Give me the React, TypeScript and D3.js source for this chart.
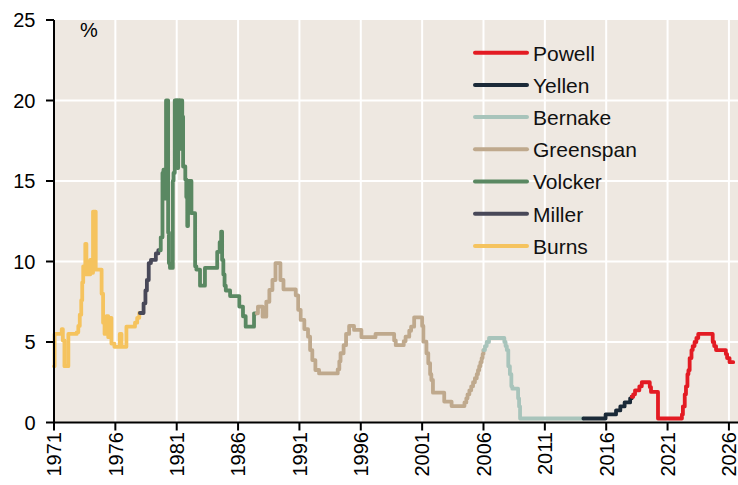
import React from "react";
import * as d3 from "d3";

type Pt = [number, number];

const burns: Pt[] = [[1971.0,3.5],[1971.05,5.5],[1971.63,5.8],[1971.72,5.1],[1971.85,3.5],[1972.17,5.5],[1972.85,5.6],[1972.98,6.0],[1973.1,6.7],[1973.22,7.6],[1973.3,8.7],[1973.38,9.7],[1973.55,11.1],[1973.64,9.2],[1973.95,10.1],[1974.05,9.3],[1974.18,13.1],[1974.4,9.5],[1974.88,8.0],[1975.0,6.2],[1975.12,5.5],[1975.28,6.6],[1975.42,5.3],[1975.52,6.5],[1975.68,4.9],[1975.92,4.7],[1976.36,5.5],[1976.5,4.7],[1976.9,5.95],[1977.6,6.2],[1977.78,6.5],[1977.95,6.8],[1978.0,6.8]];
const miller: Pt[] = [[1978.0,6.8],[1978.3,7.4],[1978.45,8.2],[1978.57,8.85],[1978.72,9.9],[1978.9,10.1],[1979.3,10.5],[1979.5,10.7],[1979.64,10.7]];
const volcker: Pt[] = [[1979.64,10.7],[1979.7,11.5],[1979.84,15.5],[1979.92,15.7],[1979.98,13.9],[1980.06,15.5],[1980.13,20],[1980.3,11.8],[1980.36,9.9],[1980.45,9.6],[1980.68,15],[1980.74,15.5],[1980.84,20],[1980.92,16.5],[1980.98,20],[1981.06,15.8],[1981.12,20],[1981.2,17],[1981.27,20],[1981.45,19],[1981.52,15.9],[1981.7,15.1],[1981.78,14],[1981.86,12.2],[1981.92,15],[1982.2,13],[1982.5,9.7],[1982.6,9.5],[1982.9,8.5],[1983.3,9.6],[1984.3,10.6],[1984.5,11.2],[1984.62,11.85],[1984.7,10.1],[1984.8,9.2],[1984.9,8.5],[1985.0,8.2],[1985.35,7.85],[1986.1,7.2],[1986.4,6.6],[1986.62,5.95],[1987.3,6.78],[1987.52,6.78]];
const greenspan: Pt[] = [[1987.52,6.78],[1987.62,7.2],[1988.0,6.57],[1988.3,7.5],[1988.55,8.23],[1988.8,8.85],[1989.05,9.9],[1989.45,8.85],[1989.7,8.27],[1990.7,7.9],[1990.9,7.0],[1991.1,6.37],[1991.4,5.8],[1991.7,5.33],[1991.87,4.5],[1992.05,3.88],[1992.3,3.26],[1992.6,3.05],[1994.12,3.3],[1994.25,3.8],[1994.35,4.3],[1994.6,4.8],[1994.8,5.5],[1995.05,6.0],[1995.45,5.75],[1996.05,5.3],[1997.2,5.5],[1998.72,5.1],[1998.85,4.8],[1999.5,5.05],[1999.65,5.33],[1999.95,5.7],[2000.1,5.95],[2000.35,6.53],[2001.0,6.0],[2001.1,5.02],[2001.35,4.3],[2001.5,3.68],[2001.65,3.0],[2001.75,2.64],[2001.88,1.85],[2002.8,1.3],[2003.4,1.02],[2004.45,1.25],[2004.6,1.5],[2004.7,1.75],[2004.85,2.0],[2005.0,2.25],[2005.15,2.5],[2005.3,2.75],[2005.45,3.0],[2005.55,3.25],[2005.65,3.5],[2005.75,3.75],[2005.85,4.0],[2005.93,4.25],[2006.0,4.5]];
const bernanke: Pt[] = [[2006.0,4.5],[2006.12,4.75],[2006.26,5.0],[2006.45,5.25],[2007.7,5.0],[2007.8,4.75],[2007.9,4.5],[2008.02,3.5],[2008.15,3.0],[2008.27,2.25],[2008.35,2.1],[2008.82,1.5],[2008.9,1.0],[2008.98,0.25],[2014.14,0.25]];
const yellen: Pt[] = [[2014.14,0.25],[2015.95,0.5],[2016.8,0.75],[2017.15,1.0],[2017.5,1.25],[2017.95,1.5],[2018.08,1.6]];
const powell: Pt[] = [[2018.08,1.6],[2018.2,1.75],[2018.35,2.0],[2018.7,2.25],[2018.9,2.5],[2019.55,2.2],[2019.65,1.9],[2020.22,0.25],[2022.17,0.5],[2022.25,1.0],[2022.4,1.75],[2022.5,2.25],[2022.62,3.0],[2022.7,3.25],[2022.8,4.0],[2022.95,4.5],[2023.05,4.75],[2023.2,5.0],[2023.35,5.25],[2023.5,5.5],[2024.68,5.0],[2024.8,4.75],[2024.95,4.5],[2025.75,4.25],[2025.85,4.0],[2026.05,3.75],[2026.35,3.75]];

const legendNames = ["Powell", "Yellen", "Bernake", "Greenspan", "Volcker", "Miller", "Burns"];
const legendColors = ["#E31B23", "#1B2A38", "#A8C4BB", "#BFA98D", "#5A8862", "#484858", "#F5C35E"];
const seriesData = [powell, yellen, bernanke, greenspan, volcker, miller, burns];
const yTicks = [0, 5, 10, 15, 20, 25];
const xTicks = [1971, 1976, 1981, 1986, 1991, 1996, 2001, 2006, 2011, 2016, 2021, 2026];
const unitLabel = "%";

export default function App() {
  const W = 738, H = 485;
  const left = 54, right = 738, top = 20, bottom = 422.5;
  const x = d3.scaleLinear().domain([1971, 2026.74]).range([left, right]);
  const y = d3.scaleLinear().domain([0, 25]).range([bottom, top]);
  const line = d3.line<Pt>().x(d => x(d[0])).y(d => y(d[1])).curve(d3.curveStepAfter);
  const font = "'Liberation Sans', Arial, sans-serif";
  const order = [6, 5, 4, 3, 2, 1, 0];
  return (
    <svg width={W} height={H} style={{ position: "absolute", left: 0, top: 0, background: "#fff" }} fontFamily={font}>
      <rect x={left} y={top} width={right - left} height={bottom - top} fill="#EEE8E1" />
      {yTicks.filter(t => t > 0 && t < 25).map(t => (
        <line key={"gy" + t} x1={left} x2={right} y1={y(t)} y2={y(t)} stroke="#fff" strokeWidth={2} />
      ))}
      {xTicks.filter(t => t > 1971).map(t => (
        <line key={"gx" + t} x1={x(t)} x2={x(t)} y1={top} y2={bottom} stroke="#fff" strokeWidth={2} />
      ))}
      {order.map(i => (
        <path key={"s" + i} d={line(seriesData[i]) || ""} fill="none" stroke={legendColors[i]} strokeWidth={3.8} strokeLinejoin="round" strokeLinecap="round" />
      ))}
      <line x1={left} x2={left} y1={top} y2={bottom} stroke="#000" strokeWidth={2} />
      <line x1={left - 1} x2={right} y1={bottom} y2={bottom} stroke="#000" strokeWidth={2} />
      {yTicks.map(t => (
        <g key={"yt" + t}>
          <line x1={left - 8} x2={left} y1={y(t)} y2={y(t)} stroke="#000" strokeWidth={2} />
          <text x={35.5} y={y(t) + 7.3} textAnchor="end" fontSize={20} fill="#000">{t}</text>
        </g>
      ))}
      {xTicks.map(t => (
        <g key={"xt" + t}>
          <line x1={x(t)} x2={x(t)} y1={bottom} y2={bottom + 8} stroke="#000" strokeWidth={2} />
          <text transform={`translate(${x(t) + 7.3},${432}) rotate(-90)`} textAnchor="end" fontSize={20} fill="#000">{t}</text>
        </g>
      ))}
      <text x={80} y={37} fontSize={20} fill="#000">{unitLabel}</text>
      {legendNames.map((n, i) => {
        const cy = 52.7 + i * 32.2;
        return (
          <g key={"lg" + n}>
            <line x1={475} x2={527} y1={cy} y2={cy} stroke={legendColors[i]} strokeWidth={4} strokeLinecap="round" />
            <text x={533} y={cy + 7.8} fontSize={21} fill="#111">{n}</text>
          </g>
        );
      })}
    </svg>
  );
}
